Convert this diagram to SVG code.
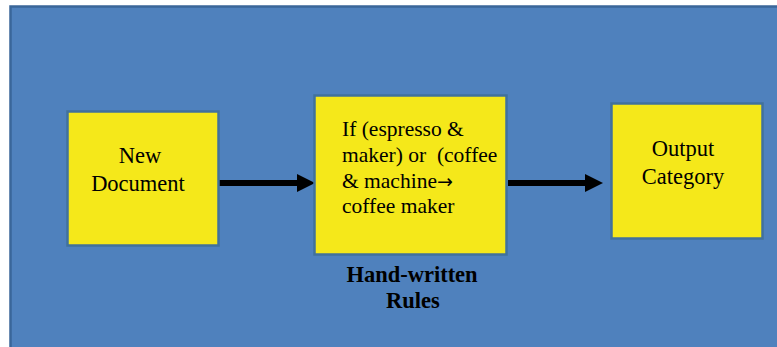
<svg xmlns="http://www.w3.org/2000/svg" width="777" height="347" viewBox="0 0 777 347">
  <style>
    .panel { fill: #4F81BD; stroke: #3A6699; stroke-width: 2.5; }
    .box { fill: #F5E81A; stroke: #41719C; stroke-width: 2.5; }
    .label { font-family: "Liberation Serif", "Times New Roman", serif; font-size: 22.5px; fill: #000; }
    .center { text-anchor: middle; }
    .rule { font-family: "Liberation Serif", "Times New Roman", serif; font-size: 21.5px; fill: #000; white-space: pre; }
    .glyph { font-family: "DejaVu Sans", sans-serif; font-size: 19px; }
    .caption { font-family: "Liberation Serif", "Times New Roman", serif; font-size: 22.5px; font-weight: bold; fill: #000; text-anchor: middle; }
    .flow { stroke: #000; stroke-width: 6; fill: none; marker-end: url(#head); }
  </style>
  <defs>
    <marker id="head" markerUnits="userSpaceOnUse" viewBox="0 0 18 18" markerWidth="18" markerHeight="18" refX="1" refY="9" orient="auto">
      <path d="M0,0 L18,9 L0,18 Z" fill="#000"/>
    </marker>
  </defs>

  <rect width="777" height="347" fill="#FFFFFF"/>
  <rect class="panel" x="10.5" y="6.5" width="790" height="360"/>

  <g id="connectors">
    <line class="flow" x1="219" y1="183" x2="298" y2="183"/>
    <line class="flow" x1="508" y1="183" x2="586" y2="183"/>
  </g>

  <g id="new-document">
    <rect class="box" x="67.5" y="111.5" width="151" height="134"/>
    <text class="label center" x="140" y="163">New</text>
    <text class="label center" x="138" y="191">Document</text>
  </g>

  <g id="hand-written-rules">
    <rect class="box" x="314.5" y="95.5" width="192" height="159"/>
    <text class="rule" x="342" y="136">If (espresso &amp;</text>
    <text class="rule" x="342" y="162">maker) or  (coffee</text>
    <text class="rule" x="342" y="187.5">&amp; machine<tspan class="glyph">→</tspan></text>
    <text class="rule" x="342" y="213">coffee maker</text>
    <text class="caption" x="412" y="282">Hand-written</text>
    <text class="caption" x="413" y="308">Rules</text>
  </g>

  <g id="output-category">
    <rect class="box" x="611.5" y="103.5" width="151" height="135"/>
    <text class="label center" x="683" y="156">Output</text>
    <text class="label center" x="683" y="184">Category</text>
  </g>
</svg>
